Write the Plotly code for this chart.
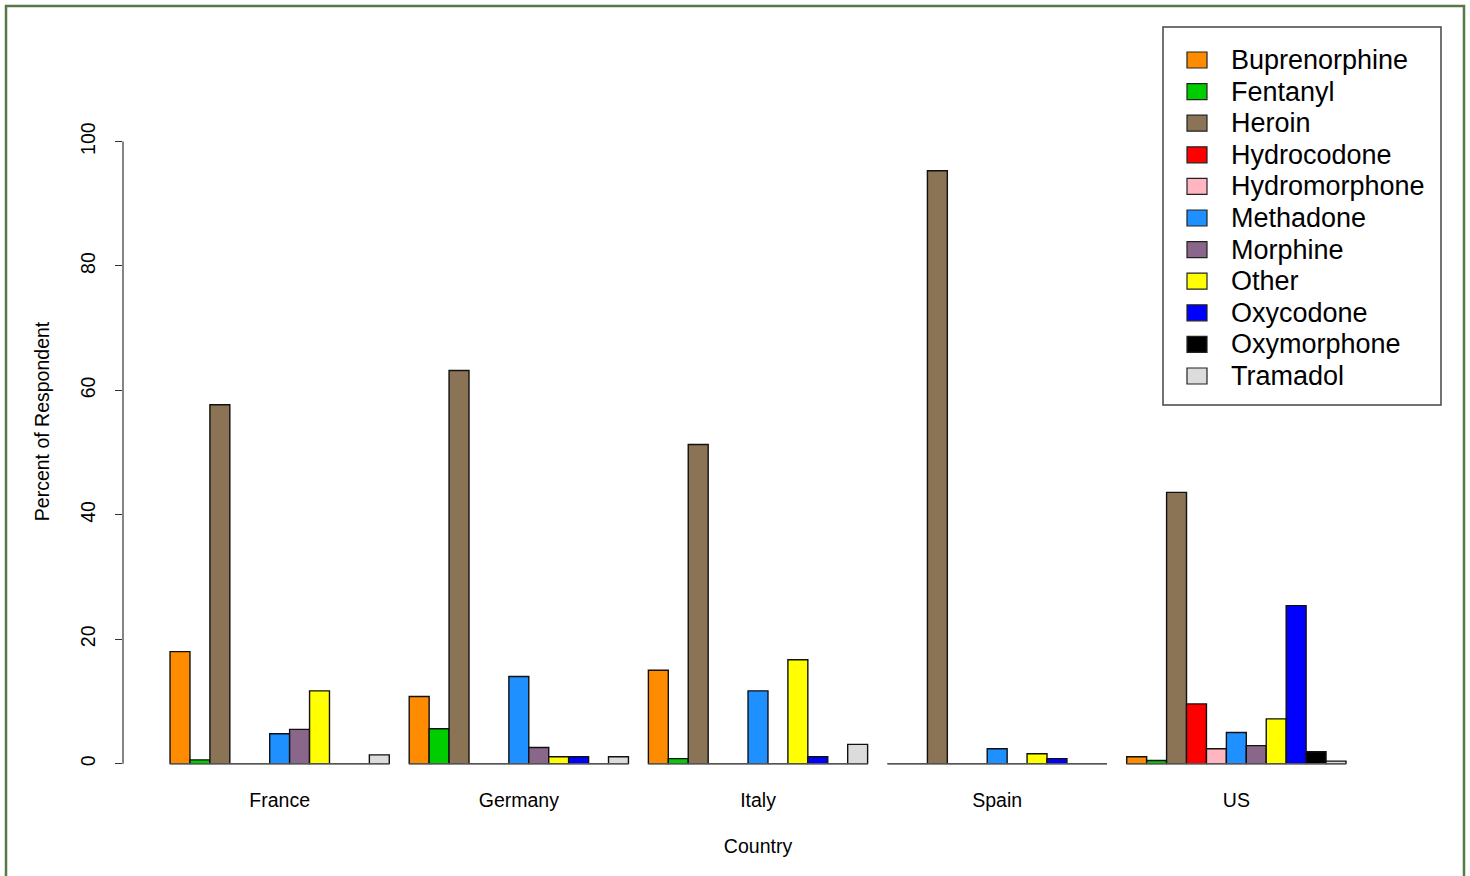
import plotly.graph_objects as go
import numpy as np

countries = ["France", "Germany", "Italy", "Spain", "US"]
drugs = ["Buprenorphine", "Fentanyl", "Heroin", "Hydrocodone", "Hydromorphone",
         "Methadone", "Morphine", "Other", "Oxycodone", "Oxymorphone", "Tramadol"]
colors = ["#FF8C00", "#00CD00", "#8B7355", "#FF0000", "#FFB6C1",
          "#1E90FF", "#8B668B", "#FFFF00", "#0000FF", "#000000", "#DCDCDC"]

# percent of respondents, per drug, per country (France, Germany, Italy, Spain, US)
buprenorphine = [18.0, 10.8, 15.0, 0.0, 1.1]
fentanyl      = [0.6, 5.6, 0.8, 0.0, 0.5]
heroin        = [57.7, 63.2, 51.3, 95.3, 43.6]
hydrocodone   = [0.0, 0.0, 0.0, 0.0, 9.6]
hydromorphone = [0.0, 0.0, 0.0, 0.0, 2.4]
methadone     = [4.8, 14.0, 11.7, 2.4, 5.0]
morphine      = [5.5, 2.6, 0.0, 0.0, 2.9]
other         = [11.7, 1.1, 16.7, 1.6, 7.2]
oxycodone     = [0.0, 1.1, 1.1, 0.8, 25.4]
oxymorphone   = [0.0, 0.0, 0.0, 0.0, 1.9]
tramadol      = [1.4, 1.1, 3.1, 0.0, 0.4]

series = [buprenorphine, fentanyl, heroin, hydrocodone, hydromorphone,
          methadone, morphine, other, oxycodone, oxymorphone, tramadol]
yticks = [0, 20, 40, 60, 80, 100]

FONT = "Liberation Sans, Arial, sans-serif"
n = len(drugs)
gap = 1.0 / (n + 1)
half = (1 - gap) / 2
xpos = np.arange(len(countries))

fig = go.Figure()

# baseline drawn by zero-height bars in R barplot
bx, by = [], []
for i in xpos:
    bx += [i - half, i + half, None]
    by += [0, 0, None]
fig.add_trace(go.Scatter(x=bx, y=by, mode="lines", line=dict(color="#555555", width=1.5),
                         showlegend=False, hoverinfo="skip"))

for name, vals, col in zip(drugs, series, colors):
    fig.add_trace(go.Bar(x=xpos, y=vals, name=name,
                         marker=dict(color=col, line=dict(color="#111111", width=1.4)),
                         showlegend=False))

# plot area in pixels
W, H = 1470, 876
L, R, T, B = 123, 77, 52, 85
pw, ph = W - L - R, H - T - B

def px(x):
    return (x - L) / pw

def py(y):
    return (H - B - y) / ph

shapes = []
annotations = []
# outer frame
shapes.append(dict(type="rect", xref="paper", yref="paper", x0=px(6), x1=px(1464), y0=py(900), y1=py(6),
                   line=dict(color="#587845", width=2.5), layer="below"))
# y axis line (0..100)
shapes.append(dict(type="line", xref="paper", yref="y", x0=0, x1=0, y0=yticks[0], y1=yticks[-1],
                   line=dict(color="#333333", width=1.2)))
# legend box
shapes.append(dict(type="rect", xref="paper", yref="paper", x0=px(1163), x1=px(1441), y0=py(405), y1=py(27),
                   line=dict(color="#444444", width=1.5), fillcolor="white", layer="above"))
for k, (name, col) in enumerate(zip(drugs, colors)):
    cy = 60 + 31.6 * k
    shapes.append(dict(type="rect", xref="paper", yref="paper", x0=px(1187), x1=px(1207),
                       y0=py(cy + 8), y1=py(cy - 8), fillcolor=col,
                       line=dict(color="#222222", width=1.2), layer="above"))
    annotations.append(dict(xref="paper", yref="paper", x=px(1229), y=py(cy), text=name, showarrow=False,
                            xanchor="left", yanchor="middle", font=dict(family=FONT, size=27, color="black")))

fig.update_layout(
    width=W, height=H,
    margin=dict(l=L, r=R, t=T, b=B),
    paper_bgcolor="white", plot_bgcolor="white",
    barmode="group", bargap=gap, bargroupgap=0,
    font=dict(family=FONT, size=19.5, color="black"),
    shapes=shapes, annotations=annotations,
    xaxis=dict(range=[-0.655, len(countries) - 1 + 0.655], tickvals=xpos, ticktext=countries,
               showgrid=False, zeroline=False, showline=False, ticks="",
               ticklabelstandoff=-5,
               title=dict(text="Country", standoff=29, font=dict(size=19.5))),
    yaxis=dict(range=[-4.4, 114.4], tickvals=yticks, ticktext=[str(v) for v in yticks],
               showgrid=False, zeroline=False, showline=False, ticks="outside", ticklen=7,
               tickcolor="#333333", tickwidth=1.2, tickangle=-90, ticklabelstandoff=12,
               title=dict(text="Percent of Respondent", standoff=22, font=dict(size=19.5))),
)

fig.write_html("out.html", config={"displayModeBar": False},
               post_script="document.body.style.margin='0';document.body.style.overflow='hidden';")
